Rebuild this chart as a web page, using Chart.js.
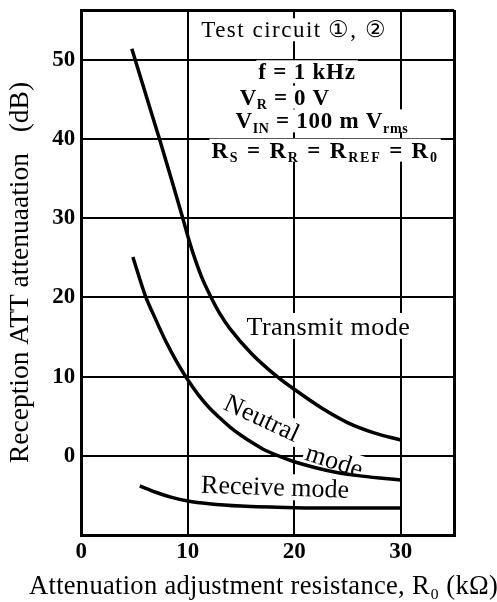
<!DOCTYPE html>
<html><head><meta charset="utf-8">
<script src="https://cdn.jsdelivr.net/npm/chart.js@4.4.1/dist/chart.umd.min.js"></script>
<style>html,body{margin:0;padding:0;background:#fff}#wrap{width:497px;height:602px;position:relative}</style>
</head><body><div id="wrap"><canvas id="c"></canvas></div>
<script>
// ---- data ----
const transmitX = [4.75, 6, 7.35, 8.5, 9.45, 10, 10.5, 11.3, 12.2, 13, 14, 16, 18.4, 20, 22.5, 25, 27.5, 30];
const transmitY = [51.4, 45.9, 40, 34.8, 30.4, 27.8, 25.6, 22.6, 20, 18.0, 16.0, 12.9, 10.0, 8.4, 6.1, 4.2, 2.9, 2.0];
const neutralX = [4.85, 6, 7, 8, 9, 10, 11, 12, 13, 14, 15, 16, 17, 18.4, 20, 22, 24, 26, 28, 30];
const neutralY = [25.1, 20.3, 17.2, 14.3, 11.8, 9.6, 7.7, 6.1, 4.8, 3.6, 2.6, 1.7, 0.9, 0.05, -0.75, -1.5, -2.1, -2.5, -2.8, -3.05];
const receiveX = [5.5, 7, 8.5, 10, 12, 15, 20, 25, 30];
const receiveY = [-3.8, -4.6, -5.25, -5.7, -6.05, -6.35, -6.55, -6.6, -6.6];
const xTickValues = [0, 10, 20, 30];
const yTickValues = [0, 10, 20, 30, 40, 50];
const xRange = [0, 35];
const yRange = [-10, 56.3];
const xTitle = 'Attenuation adjustment resistance, R\u2080 (k\u03a9)';
const yTitle = 'Reception ATT attenuaation\u00a0\u00a0\u00a0(dB)';

// ---- styling / annotations ----
const SERIF = '"Liberation Serif", "DejaVu Serif", serif';
const notes = [
  {x: 20.0, y: 53.8, size: 23, ls: 1.5, parts: [['Test circuit\u2009\u2460, \u2461', 'n']]},
  {x: 21.2, y: 48.5, size: 23, ls: 0.8, w: 'bold', parts: [['f = 1 kHz', 'n']]},
  {x: 19.1, y: 45.3, size: 23, ls: 0.6, w: 'bold', parts: [['V', 'n'], ['R', 's'], [' = 0 V', 'n']]},
  {x: 22.6, y: 42.3, size: 23, ls: 0.7, w: 'bold', parts: [['V', 'n'], ['IN', 's'], [' = 100 m V', 'n'], ['rms', 's']]},
  {x: 22.9, y: 38.6, size: 23, ls: 1.8, w: 'bold', parts: [['R', 'n'], ['S', 's'], [' = R', 'n'], ['R', 's'], [' = R', 'n'], ['REF', 's'], [' = R', 'n'], ['0', 's']]},
  {x: 23.2, y: 16.4, size: 26, ls: 0.5, parts: [['Transmit mode', 'n']]},
  {x: 17.0, y: 4.8, size: 26, ls: 0.3, rot: 25, parts: [['Neutral', 'n']]},
  {x: 23.8, y: -0.6, size: 26, ls: 0.3, rot: 18, parts: [['mode', 'n']]},
  {x: 18.2, y: -3.9, size: 26, ls: 0, rot: 2, parts: [['Receive mode', 'n']]}
];

function drawParts(ctx, n) {
  if ('letterSpacing' in ctx) ctx.letterSpacing = (n.ls || 0) + 'px';
  const base = n.size, sub = Math.round(base * 0.62), wt = n.w || 'normal';
  const segs = n.parts.map(([t, k]) => {
    const f = k === 's' ? sub : base;
    ctx.font = `${wt} ${f}px ${SERIF}`;
    return {t, k, f, w: ctx.measureText(t).width};
  });
  const W = segs.reduce((a, s) => a + s.w, 0);
  if (n.bg !== false) {
    ctx.fillStyle = '#fff';
    ctx.fillRect(-W / 2 - 2, -base * 0.5, W + 4, base * 1.0);
  }
  ctx.fillStyle = '#000';
  ctx.textAlign = 'left';
  ctx.textBaseline = 'alphabetic';
  let cx = -W / 2;
  segs.forEach(s => {
    ctx.font = `${wt} ${s.f}px ${SERIF}`;
    ctx.fillText(s.t, cx, base * 0.33 + (s.k === 's' ? base * 0.2 : 0));
    cx += s.w;
  });
}

const notesPlugin = {
  id: 'notes',
  beforeDatasetsDraw(chart) {
    const {ctx, scales: {x, y}} = chart;
    notes.forEach(n => {
      ctx.save();
      ctx.translate(x.getPixelForValue(n.x), y.getPixelForValue(n.y));
      ctx.rotate((n.rot || 0) * Math.PI / 180);
      drawParts(ctx, n);
      ctx.restore();
    });
  },
  // x-axis title drawn here so it may extend beyond the plot width, as in the reference
  afterDraw(chart) {
    const {ctx, chartArea} = chart;
    ctx.save();
    ctx.translate((chartArea.left + chartArea.right) / 2 - 4, chart.height - 17);
    drawParts(ctx, {size: 26.5, ls: 0.3, bg: false, parts: [[xTitle, 'n']]});
    ctx.restore();
  }
};

const mk = (xs, ys) => xs.map((v, i) => ({x: v, y: ys[i]}));
const lineDs = (label, xs, ys) => ({
  label, data: mk(xs, ys), borderColor: '#000', borderWidth: 3.5,
  pointRadius: 0, fill: false, cubicInterpolationMode: 'monotone', borderCapStyle: 'butt'
});

new Chart(document.getElementById('c'), {
  type: 'line',
  data: {datasets: [
    lineDs('Transmit mode', transmitX, transmitY),
    lineDs('Neutral mode', neutralX, neutralY),
    lineDs('Receive mode', receiveX, receiveY)
  ]},
  options: {
    responsive: true, maintainAspectRatio: false, animation: false, devicePixelRatio: 1,
    layout: {padding: {left: 4, right: 43, top: 10, bottom: 33.4}},
    plugins: {legend: {display: false}, tooltip: {enabled: false}},
    scales: {
      x: {
        type: 'linear', min: xRange[0], max: xRange[1],
        afterBuildTicks: s => { s.ticks = [...xTickValues, xRange[1]].map(v => ({value: v})); },
        grid: {color: '#000', drawTicks: false,
          lineWidth: c => (c.tick && (c.tick.value === xRange[0] || c.tick.value === xRange[1])) ? 3 : 2},
        border: {display: true, color: '#000', width: 3},
        ticks: {color: '#000', padding: 3, maxRotation: 0, autoSkip: false,
          font: {family: SERIF, size: 23, weight: 'bold'},
          callback: v => xTickValues.includes(v) ? String(v) : ''},
        title: {display: false}
      },
      y: {
        type: 'linear', min: yRange[0], max: yRange[1],
        afterBuildTicks: s => { s.ticks = [yRange[0], ...yTickValues, yRange[1]].map(v => ({value: v})); },
        grid: {color: '#000', drawTicks: false,
          lineWidth: c => (c.tick && (c.tick.value === yRange[0] || c.tick.value === yRange[1])) ? 3 : 2},
        border: {display: true, color: '#000', width: 3},
        ticks: {color: '#000', padding: 6, autoSkip: false,
          font: c => (c.tick && c.tick.value === yRange[1]) ? {family: SERIF, size: 1} : {family: SERIF, size: 23, weight: 'bold'},
          callback: v => yTickValues.includes(v) ? String(v) : ''},
        title: {display: true, text: yTitle, color: '#000',
          font: {family: SERIF, size: 27.5, weight: 'normal', lineHeight: 1.0}, padding: {top: 3, bottom: 11.7}}
      }
    }
  },
  plugins: [notesPlugin]
});
</script>
</body></html>
